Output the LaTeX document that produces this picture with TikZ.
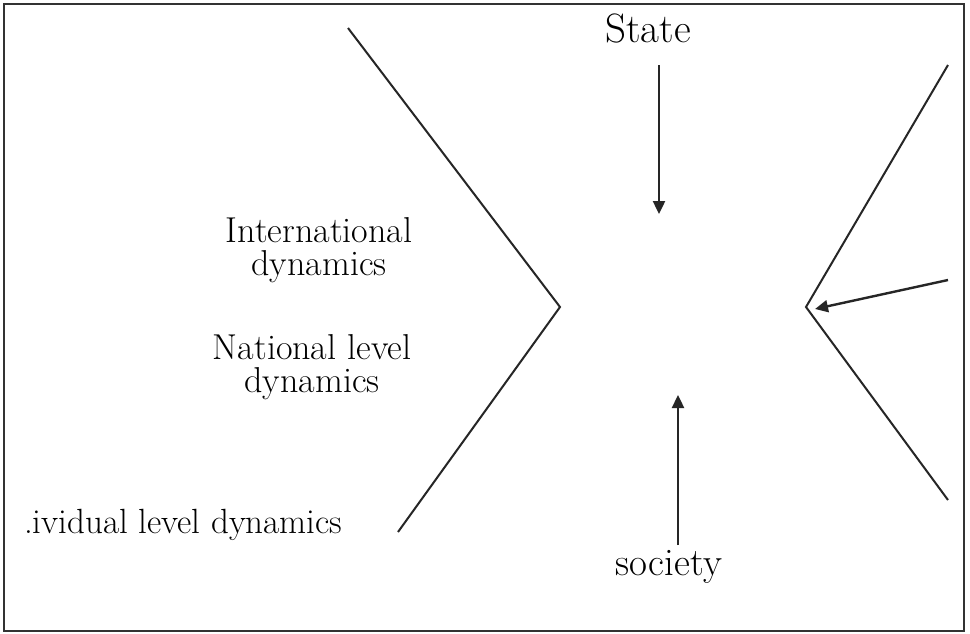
\documentclass[tikz,border=0pt]{standalone}
\usepackage{tikz}
\usetikzlibrary{arrows.meta}
\usetikzlibrary{positioning}

\tikzset{
  lbl/.style={inner sep=0pt, align=center, font=\fontsize{36}{33}\selectfont},
  chevron/.style={line width=2pt, color=black!85, line join=miter},
  flow/.style={line width=2.4pt, color=black!85, -{Triangle[length=13pt,width=12pt]}}
}

\begin{document}
\begin{tikzpicture}[x=1pt, y=-1pt]
\useasboundingbox (0,0) rectangle (970,633);
\fill[white] (0,0) rectangle (970,633);
% frame
\draw[line width=2pt, color=black!80] (4,4) rectangle (964,631);
% left and right chevrons
\path (348,28) coordinate (top_left) (560,307) coordinate (apex_left) (398,532) coordinate (bot_left);
\path (948,65) coordinate (top_right) (806,307) coordinate (apex_right) (948,500) coordinate (bot_right);
\draw[chevron] (top_left) -- (apex_left) -- (bot_left);
\draw[chevron] (top_right) -- (apex_right) -- (bot_right);
% labels
\node[lbl, anchor=base, font=\fontsize{41}{41}\selectfont] (state) at (648,42) {State};
\node[lbl, anchor=base, font=\fontsize{39}{39}\selectfont] (society) at (669,575) {society};
\node[lbl] (intl) at (319,250) {International\\dynamics};
\node[lbl] (natl) at (312,367) {National level\\dynamics};
\node[lbl, anchor=base west, font=\fontsize{35}{35}\selectfont] (indiv) at (24,533) {.ividual level dynamics};
% arrows
\path (659,65) coordinate (state_start) (659,214) coordinate (state_end);
\path (678,545) coordinate (soc_start) (678,395) coordinate (soc_end);
\path (948,280) coordinate (ext_start);
\draw[flow] (state_start) -- (state_end);
\draw[flow] (soc_start) -- (soc_end);
\draw[flow] (ext_start) -- ([xshift=9pt,yshift=-2pt]apex_right);
\end{tikzpicture}
\end{document}
